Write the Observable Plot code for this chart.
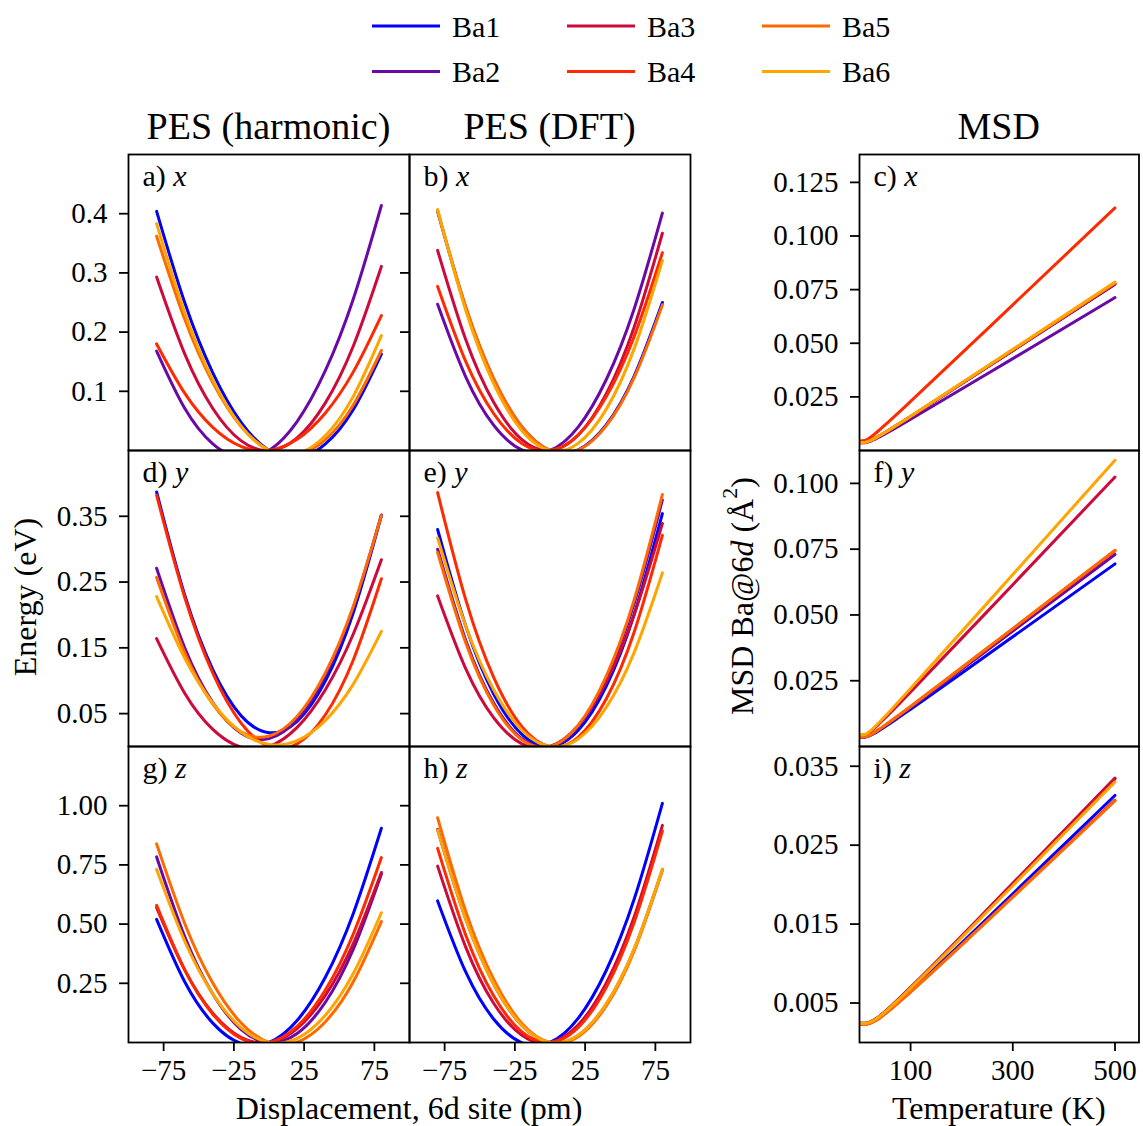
<!DOCTYPE html>
<html><head><meta charset="utf-8">
<script src="https://cdn.jsdelivr.net/npm/d3@7"></script>
<script src="https://cdn.jsdelivr.net/npm/@observablehq/plot@0.6"></script>
<style>
html,body{margin:0;padding:0;background:#fff;}
#root{position:relative;width:1143px;height:1126px;overflow:hidden;background:#fff;}
#root svg{position:absolute;}
</style></head><body><div id="root"></div>
<script>
// ---------- data ----------
const sites = ["Ba1", "Ba2", "Ba3", "Ba4", "Ba5", "Ba6"];
const siteColors = ["#0000ff", "#6a0aa6", "#cc0a3c", "#ff2a00", "#ff6a00", "#ffa500"];

const displacement = [-80, -60, -40, -20, 0, 20, 40, 60, 80];

const pesHarmonicX = [
  [0.404, 0.2499, 0.1311, 0.0479, 0, -0.0124, 0.0106, 0.0691, 0.163],
  [0.168, 0.0714, 0.0113, -0.0126, 0, 0.0489, 0.1343, 0.2559, 0.414],
  [0.293, 0.1631, 0.0710, 0.0166, 0, 0.0211, 0.0800, 0.1766, 0.311],
  [0.180, 0.0968, 0.0390, 0.0068, 0, 0.0188, 0.0630, 0.1328, 0.228],
  [0.362, 0.2217, 0.1146, 0.0407, 0, -0.0075, 0.0181, 0.0770, 0.169],
  [0.383, 0.2332, 0.1194, 0.0417, 0, -0.0056, 0.0249, 0.0914, 0.194]
];
const pesDftX = [
  [0.404, 0.2417, 0.1203, 0.0397, 0, 0.0012, 0.0433, 0.1262, 0.250],
  [0.247, 0.1245, 0.0425, 0.0010, 0, 0.0395, 0.1195, 0.2400, 0.401],
  [0.338, 0.1874, 0.0809, 0.0184, 0, 0.0257, 0.0954, 0.2092, 0.367],
  [0.277, 0.1505, 0.0621, 0.0120, 0, 0.0262, 0.0906, 0.1932, 0.334],
  [0.405, 0.2427, 0.1211, 0.0402, 0, 0.0005, 0.0416, 0.1235, 0.246],
  [0.407, 0.2370, 0.1125, 0.0335, 0, 0.0120, 0.0695, 0.1725, 0.321]
];
const pesHarmonicY = [
  [0.387, 0.2303, 0.1170, 0.0473, 0.021, 0.0383, 0.0990, 0.2033, 0.351],
  [0.271, 0.1501, 0.0666, 0.0206, 0.012, 0.0409, 0.1071, 0.2109, 0.352],
  [0.164, 0.0810, 0.0260, -0.0010, 0, 0.0290, 0.0860, 0.1710, 0.284],
  [0.382, 0.2268, 0.1114, 0.0358, 0, 0.0040, 0.0479, 0.1315, 0.255],
  [0.257, 0.1428, 0.0645, 0.0223, 0.016, 0.0458, 0.1115, 0.2133, 0.351],
  [0.228, 0.1345, 0.0659, 0.0220, 0.003, 0.0088, 0.0394, 0.0948, 0.175]
];
const pesDftY = [
  [0.330, 0.1834, 0.0795, 0.0184, 0, 0.0244, 0.0915, 0.2014, 0.354],
  [0.300, 0.1617, 0.0656, 0.0117, 0, 0.0305, 0.1031, 0.2180, 0.375],
  [0.229, 0.1185, 0.0435, 0.0040, 0, 0.0315, 0.0985, 0.2010, 0.339],
  [0.386, 0.2232, 0.1046, 0.0302, 0, 0.0140, 0.0721, 0.1745, 0.321],
  [0.295, 0.1577, 0.0628, 0.0102, 0, 0.0322, 0.1068, 0.2237, 0.383],
  [0.317, 0.1833, 0.0859, 0.0248, 0, 0.0115, 0.0594, 0.1435, 0.264]
];
const pesHarmonicZ = [
  [0.520, 0.2564, 0.0819, -0.0036, 0, 0.0927, 0.2744, 0.5452, 0.905],
  [0.784, 0.4478, 0.2050, 0.0558, 0, 0.0378, 0.1690, 0.3938, 0.712],
  [0.570, 0.3068, 0.1240, 0.0218, 0, 0.0588, 0.1980, 0.4178, 0.718],
  [0.579, 0.3068, 0.1195, 0.0173, 0, 0.0678, 0.2205, 0.4583, 0.781],
  [0.839, 0.5027, 0.2508, 0.0832, 0, 0.0012, 0.0868, 0.2567, 0.511],
  [0.731, 0.4284, 0.2056, 0.0629, 0, 0.0171, 0.1141, 0.2911, 0.548]
];
const pesDftZ = [
  [0.598, 0.2978, 0.0980, -0.0013, 0, 0.1018, 0.3040, 0.6068, 1.010],
  [0.900, 0.5222, 0.2463, 0.0722, 0, 0.0297, 0.1613, 0.3947, 0.730],
  [0.745, 0.4029, 0.1648, 0.0304, 0, 0.0734, 0.2508, 0.5319, 0.917],
  [0.820, 0.4544, 0.1959, 0.0444, 0, 0.0627, 0.2324, 0.5092, 0.893],
  [0.949, 0.5546, 0.2650, 0.0801, 0, 0.0246, 0.1540, 0.3881, 0.727],
  [0.897, 0.5200, 0.2449, 0.0715, 0, 0.0303, 0.1624, 0.3963, 0.732]
];

const temperature = [0, 10, 20, 30, 40, 50, 75, 100, 300, 500];

const msdX = [
  [0.003698, 0.003761, 0.004446, 0.005588, 0.006931, 0.008333, 0.012008, 0.015782, 0.046562, 0.0775],
  [0.003547, 0.003596, 0.004189, 0.005213, 0.006435, 0.007713, 0.011078, 0.014542, 0.042842, 0.0713],
  [0.003703, 0.003766, 0.004454, 0.005601, 0.006947, 0.008353, 0.012038, 0.015822, 0.046682, 0.0777],
  [0.004468, 0.004643, 0.005906, 0.007736, 0.009779, 0.011893, 0.017348, 0.022902, 0.067922, 0.1131],
  [0.003710, 0.003773, 0.004467, 0.005619, 0.006971, 0.008383, 0.012083, 0.015882, 0.046862, 0.0780],
  [0.003722, 0.003787, 0.004488, 0.005649, 0.007011, 0.008433, 0.012158, 0.015982, 0.047162, 0.0785]
];
const msdY = [
  [0.003499, 0.003544, 0.004109, 0.005098, 0.006283, 0.007523, 0.010793, 0.014162, 0.041702, 0.0694],
  [0.003589, 0.003642, 0.004259, 0.005316, 0.006571, 0.007883, 0.011333, 0.014882, 0.043862, 0.0730],
  [0.004251, 0.004387, 0.005469, 0.007091, 0.008923, 0.010823, 0.015743, 0.020762, 0.061502, 0.1024],
  [0.003623, 0.003679, 0.004317, 0.005400, 0.006683, 0.008023, 0.011543, 0.015162, 0.044702, 0.0744],
  [0.003628, 0.003684, 0.004326, 0.005413, 0.006699, 0.008043, 0.011573, 0.015202, 0.044822, 0.0746],
  [0.004382, 0.004541, 0.005730, 0.007477, 0.009435, 0.011463, 0.016703, 0.022042, 0.065342, 0.1088]
];
const msdZ = [
  [0.002349, 0.002352, 0.002461, 0.002766, 0.003195, 0.003692, 0.005078, 0.006542, 0.018842, 0.0313],
  [0.002427, 0.002430, 0.002558, 0.002898, 0.003366, 0.003904, 0.005393, 0.006962, 0.020102, 0.0334],
  [0.002430, 0.002433, 0.002562, 0.002903, 0.003373, 0.003913, 0.005408, 0.006982, 0.020162, 0.0335],
  [0.002326, 0.002328, 0.002433, 0.002728, 0.003146, 0.003631, 0.004988, 0.006422, 0.018482, 0.0307],
  [0.002322, 0.002324, 0.002428, 0.002722, 0.003138, 0.003621, 0.004973, 0.006402, 0.018422, 0.0306],
  [0.002412, 0.002415, 0.002539, 0.002872, 0.003333, 0.003863, 0.005333, 0.006882, 0.019862, 0.0330]
];

const ticksPesX = [0.1, 0.2, 0.3, 0.4];
const ticksPesY = [0.05, 0.15, 0.25, 0.35];
const ticksPesZ = [0.25, 0.5, 0.75, 1.0];
const ticksMsdX = [0.025, 0.05, 0.075, 0.1, 0.125];
const ticksMsdY = [0.025, 0.05, 0.075, 0.1];
const ticksMsdZ = [0.005, 0.015, 0.025, 0.035];
const ticksDisplacement = [-75, -25, 25, 75];
const ticksTemperature = [100, 300, 500];

const columnTitles = ["PES (harmonic)", "PES (DFT)", "MSD"];
const panelLetters = [["a", "b", "c"], ["d", "e", "f"], ["g", "h", "i"]];
const directions = ["x", "y", "z"];

// ---------- layout ----------
const FONT = "'Liberation Serif','Times New Roman',serif";
const colPx = [[128, 409], [409, 690], [859, 1138.5]];
const rowPx = [[154, 450], [450, 746], [746, 1042]];
const root = document.getElementById("root");

function table(series, xs) {
  return sites.flatMap((s, i) => xs.map((x, j) => ({site: s, x, v: series[i][j]})));
}

function panel({series, xs, xDomain, yDomain, yTicks, yFmt, xTicks, col, row, curve}) {
  const [fx0, fx1] = colPx[col];
  const [fy0, fy1] = rowPx[row];
  const showYLabels = col !== 1;
  const showX = row === 2;
  const mL = showYLabels ? 120 : 14, mR = 2, mT = 2, mB = showX ? 50 : 2;
  const marks = [
    Plot.line(table(series, xs), {x: "x", y: "v", stroke: "site", strokeWidth: 3, curve, clip: true}),
    Plot.frame({stroke: "#000", strokeWidth: 1.8}),
    Plot.axisY({ticks: yTicks, tickSize: 9, tickPadding: 12, strokeWidth: 1.8,
      tickFormat: showYLabels ? yFmt : () => "", label: null})
  ];
  if (showX) marks.push(Plot.axisX({ticks: xTicks, tickSize: 9, tickPadding: 8, strokeWidth: 1.8,
    tickFormat: d3.format("d"), label: null}));
  const svg = Plot.plot({
    width: fx1 - fx0 + mL + mR, height: fy1 - fy0 + mT + mB,
    marginLeft: mL, marginRight: mR, marginTop: mT, marginBottom: mB,
    x: showX ? {domain: xDomain} : {domain: xDomain, axis: null},
    y: {domain: yDomain},
    color: {domain: sites, range: siteColors},
    style: {background: "transparent", overflow: "visible", fontFamily: FONT, fontSize: "29px", color: "#000"},
    marks
  });
  svg.style.left = (fx0 - mL) + "px";
  svg.style.top = (fy0 - mT) + "px";
  root.append(svg);
}

const pesSeries = [[pesHarmonicX, pesDftX], [pesHarmonicY, pesDftY], [pesHarmonicZ, pesDftZ]];
const msdSeries = [msdX, msdY, msdZ];
const pesYDomains = [[0, 0.5], [0, 0.45], [0, 1.25]];
const msdYDomains = [[0, 0.138], [0, 0.1125], [0, 0.0375]];
const pesTicks = [ticksPesX, ticksPesY, ticksPesZ];
const msdTicks = [ticksMsdX, ticksMsdY, ticksMsdZ];
const pesFmts = [d3.format(".1f"), d3.format(".2f"), d3.format(".2f")];

for (let r = 0; r < 3; r++) {
  for (let c = 0; c < 2; c++) {
    panel({series: pesSeries[r][c], xs: displacement, xDomain: [-100, 100], yDomain: pesYDomains[r],
      yTicks: pesTicks[r], yFmt: pesFmts[r], xTicks: ticksDisplacement, col: c, row: r, curve: "natural"});
  }
  panel({series: msdSeries[r], xs: temperature, xDomain: [0, 547], yDomain: msdYDomains[r],
    yTicks: msdTicks[r], yFmt: d3.format(".3f"), xTicks: ticksTemperature, col: 2, row: r, curve: "monotone-x"});
}

// ---------- overlay: titles, panel labels, axis labels, legend ----------
const ov = d3.select(root).append("svg")
  .attr("width", 1143).attr("height", 1126)
  .style("left", "0px").style("top", "0px").style("pointer-events", "none")
  .style("font-family", FONT).style("overflow", "visible");

columnTitles.forEach((t, c) => {
  ov.append("text").attr("x", (colPx[c][0] + colPx[c][1]) / 2).attr("y", 139)
    .attr("text-anchor", "middle").attr("font-size", 38).text(t);
});

for (let r = 0; r < 3; r++) {
  for (let c = 0; c < 3; c++) {
    const t = ov.append("text").attr("x", colPx[c][0] + 14.5).attr("y", rowPx[r][0] + 32).attr("font-size", 30);
    t.append("tspan").text(panelLetters[r][c] + ") ");
    t.append("tspan").attr("font-style", "italic").text(directions[r]);
  }
}

ov.append("text").attr("transform", "translate(25,597) rotate(-90)").attr("dy", "0.35em")
  .attr("text-anchor", "middle").attr("font-size", 32).text("Energy (eV)");

const msdLab = ov.append("text").attr("transform", "translate(742,596) rotate(-90)").attr("dy", "0.35em")
  .attr("text-anchor", "middle").attr("font-size", 32);
msdLab.append("tspan").text("MSD Ba@6");
msdLab.append("tspan").attr("font-style", "italic").text("d");
msdLab.append("tspan").text(" (Å");
msdLab.append("tspan").attr("font-size", 22).attr("dy", "-0.75em").text("2");
msdLab.append("tspan").attr("dy", "0.5em").text(")");

ov.append("text").attr("x", (colPx[0][0] + colPx[1][1]) / 2).attr("y", 1119)
  .attr("text-anchor", "middle").attr("font-size", 32).text("Displacement, 6d site (pm)");
ov.append("text").attr("x", (colPx[2][0] + colPx[2][1]) / 2).attr("y", 1119)
  .attr("text-anchor", "middle").attr("font-size", 32).text("Temperature (K)");

const legendCols = [372, 567, 762];
const legendRows = [26, 71.5];
sites.forEach((s, i) => {
  const lx = legendCols[Math.floor(i / 2)], ly = legendRows[i % 2];
  ov.append("line").attr("x1", lx).attr("x2", lx + 68).attr("y1", ly).attr("y2", ly)
    .attr("stroke", siteColors[i]).attr("stroke-width", 3);
  ov.append("text").attr("x", lx + 80).attr("y", ly + 10.5).attr("font-size", 30).text(s);
});
</script></body></html>
